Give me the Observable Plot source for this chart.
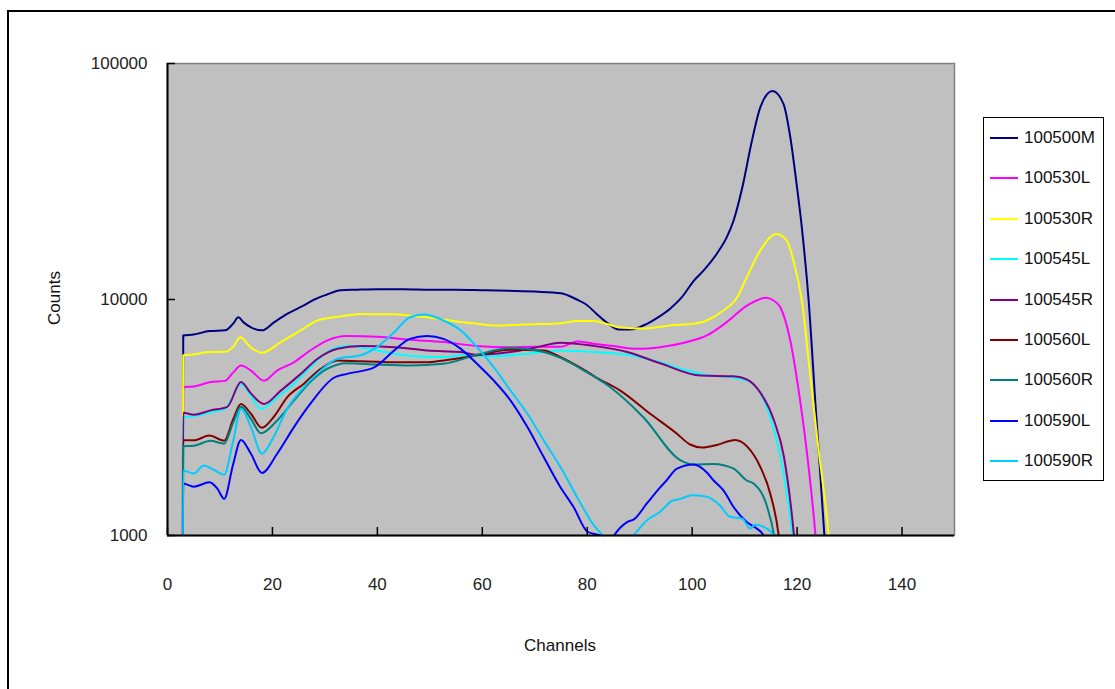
<!DOCTYPE html>
<html>
<head>
<meta charset="utf-8">
<script src="https://cdn.jsdelivr.net/npm/d3@7"></script>
<script src="https://cdn.jsdelivr.net/npm/@observablehq/plot@0.6"></script>
<style>
  html, body { margin:0; padding:0; background:#fff; }
  body { width:1115px; height:689px; position:relative; overflow:hidden; font-family:"Liberation Sans", Arial, sans-serif; }
  #chart { position:absolute; left:0; top:0; }
  #outer { position:absolute; left:7px; top:10px; width:1120px; height:700px; border:2px solid #000; pointer-events:none; box-sizing:border-box; }
  .lbl { position:absolute; font-size:17px; color:#111; white-space:nowrap; }
  #legend { position:absolute; left:983px; top:117px; width:121px; height:364px; border:1px solid #000; box-sizing:border-box; background:#fff; }
  .item { position:absolute; left:6px; height:20px; display:flex; align-items:center; font-size:17px; color:#111; }
  .item svg { margin-right:6px; }
</style>
</head>
<body>
<div id="chart"></div>
<div id="outer"></div>
<div class="lbl" id="ylab" style="left:55px; top:298px; transform:translate(-50%,-50%) rotate(-90deg);">Counts</div>
<div class="lbl" id="xlab" style="left:560px; top:646px; transform:translate(-50%,-50%);">Channels</div>
<div id="legend"></div>
<script>
// ---- data: [channel, counts] ----
const seriesNames = ["100500M","100530L","100530R","100545L","100545R","100560L","100560R","100590L","100590R"];
const seriesColors = ["#000080","#FF00FF","#FFFF00","#00FFFF","#800080","#800000","#008080","#0000FF","#00CCFF"];
const xTicks = [0,20,40,60,80,100,120,140];
const yTicks = [1000,10000,100000];

const s100500M = [[2.8,100],[3,7040],[5,7100],[8,7350],[11,7400],[12.5,7900],[13.5,8400],[14.5,8000],[16,7600],[18,7400],[20.3,8000],[22.8,8690],[26,9440],[28,10000],[30.4,10500],[33,10950],[36,11000],[40,11050],[45,11050],[50,11000],[55,11000],[60,10950],[65,10900],[70,10800],[75,10640],[78,10000],[79.6,9590],[81.8,8690],[84,7900],[86,7460],[88.2,7460],[91.4,7890],[93.5,8400],[95.8,9140],[98,10200],[100.3,12000],[102.2,13280],[104.7,15630],[106.6,18370],[107.9,21620],[109.5,29440],[111.4,47200],[113,65300],[115.3,76400],[117.4,67500],[118.7,48800],[119.9,30900],[120.9,20200],[122.2,9900],[123.5,3600],[125.2,1000],[126,500]];
const s100530L = [[2.8,100],[3,4250],[5,4280],[8.2,4470],[10.9,4520],[12.5,4900],[14,5250],[15.9,5000],[18.4,4530],[20.9,5000],[24.1,5420],[27.2,6080],[30.4,6700],[34.2,7000],[40,6950],[46.2,6750],[52.6,6600],[58.9,6360],[65.3,6280],[70,6300],[74.9,6300],[78.1,6640],[81.2,6500],[85,6350],[89.5,6180],[93.9,6280],[99,6600],[102.8,7040],[106.6,8020],[110.5,9440],[112.5,9950],[114,10160],[115.5,9900],[116.8,9270],[118.7,6700],[120.3,4110],[121.9,2220],[123.5,1000],[124.5,500]];
const s100530R = [[2.8,100],[3,5800],[5,5850],[8,5990],[11,6000],[12.5,6300],[13.9,6920],[15.8,6280],[18,5950],[21.6,6600],[25.4,7400],[28.6,8150],[33,8470],[36.8,8690],[40,8650],[43.2,8650],[46,8550],[49.5,8410],[53,8200],[55.9,8020],[59,7900],[62.2,7760],[66,7800],[70,7850],[74.9,7930],[78,8100],[81.2,8100],[84,7850],[86,7630],[90.8,7540],[95.8,7760],[100.9,7930],[102.8,8150],[106,9000],[108.6,10230],[110.4,12420],[113,16150],[116.1,18970],[118,17800],[119.3,14620],[120.9,9900],[122.5,4770],[124,2400],[126,1000],[127,500]];
const s100545L = [[2.8,100],[3,3170],[5,3200],[8.2,3330],[10.9,3440],[12.5,3900],[14,4400],[15.9,3920],[17.8,3440],[20.9,3850],[24.1,4400],[27.2,5160],[30.4,5990],[34.2,6360],[39.9,6080],[43.2,5890],[49.5,5710],[52.6,5700],[55.9,5800],[62.2,5750],[68.6,5890],[74.9,6080],[81.2,5990],[89.5,5740],[93.9,5420],[99,5000],[103.5,4760],[107.9,4660],[111.1,4470],[113.7,3730],[115.6,2790],[117.2,1950],[119.1,1000],[120,600]];
const s100545R = [[2.8,100],[3,3310],[5,3250],[8.2,3390],[11.4,3510],[14,4470],[15.9,4000],[18.4,3610],[21.6,4110],[25.4,4840],[28.6,5610],[32.4,6180],[36.8,6360],[43.2,6280],[49.5,6080],[55.9,5990],[59,5830],[65.4,5990],[70,6250],[74.9,6560],[81.2,6360],[87.6,5990],[93.9,5370],[101.6,4760],[107.9,4730],[110.5,4580],[113,4030],[115.6,3070],[117.5,2150],[119.4,1000],[120.5,500]];
const s100560L = [[2.8,100],[3,2530],[5,2530],[8,2650],[10.8,2520],[12.5,3100],[14,3610],[15.9,3280],[18,2860],[20.2,3170],[22.8,3850],[26,4400],[29.2,5080],[32.4,5520],[36.8,5470],[43.2,5420],[49.5,5420],[52.7,5520],[59,5800],[65.4,6120],[71.7,6080],[74.9,5700],[78.7,5140],[81.8,4660],[86.3,4110],[92,3280],[97.1,2700],[99.6,2430],[101.9,2360],[104.7,2420],[108.2,2540],[110.5,2380],[113,1950],[114.9,1500],[116.5,1000],[117.5,600]];
const s100560R = [[2.8,100],[3,2390],[5,2400],[8.2,2520],[10.8,2450],[12.5,3000],[14,3510],[15.9,3120],[17.8,2710],[20.9,3070],[24.1,3730],[27.2,4470],[30.4,5080],[34.2,5370],[39.9,5300],[46.2,5250],[52.6,5340],[59,5830],[65.4,6230],[71.7,5990],[74.9,5660],[79.9,4920],[84.4,4250],[90.7,3170],[97.8,2080],[100.3,2000],[104.1,2010],[107.9,1920],[110.4,1710],[111.7,1660],[114.3,1320],[115.6,1000],[116.5,700]];
const s100590L = [[2.8,100],[3,1660],[5,1610],[8,1680],[9.5,1580],[10.8,1430],[12.5,2000],[14,2540],[15.9,2220],[18,1840],[20.9,2220],[24.1,2880],[27.2,3610],[31.7,4660],[34.2,4840],[39.3,5140],[43.2,6080],[46.2,6810],[49.5,7000],[52.6,6810],[55.9,6180],[59,5340],[62.2,4530],[65.4,3730],[68.6,2880],[71.7,2150],[74.9,1600],[77.4,1320],[80,1040],[81.8,1010],[83,990],[84,900],[85,990],[87.6,1140],[88.9,1170],[91.4,1370],[93.9,1600],[95.1,1710],[97.1,1920],[100.3,2000],[102.8,1850],[104.1,1710],[106,1550],[107.9,1320],[110.4,1140],[112.3,1070],[113.6,1000],[114.5,800]];
const s100590R = [[2.8,100],[3,1880],[5,1830],[6.9,1980],[8.8,1900],[10.8,1810],[12.5,2500],[14,3440],[15.9,2880],[18,2220],[20.2,2610],[22.8,3440],[25.4,4110],[29.2,5000],[32.4,5610],[36.8,5800],[39.9,6280],[43.2,7260],[46.2,8410],[48.8,8630],[52.6,8150],[55.9,7400],[59,6280],[62.2,5160],[65.4,4110],[68.6,3280],[71.7,2530],[74.9,1950],[78.1,1450],[81.2,1110],[83,1000],[86,850],[88.8,1000],[91.4,1160],[93.9,1260],[96.1,1400],[97.8,1430],[99.9,1480],[102.8,1460],[105.3,1340],[107.2,1200],[109.5,1180],[111.1,1070],[112,1110],[114.2,1070],[115.5,1000],[116.5,800]];

const seriesData = [s100500M, s100530L, s100530R, s100545L, s100545R, s100560L, s100560R, s100590L, s100590R];
const rows = seriesData.flatMap((d, i) => d.map(([ch, c]) => ({series: seriesNames[i], ch, c})));

const W = 1115, H = 689, mL = 167, mT = 63, mR = 161, mB = 154;
const innerW = W - mL - mR, innerH = H - mT - mB;

const chart = Plot.plot({
  width: W, height: H,
  marginLeft: mL, marginTop: mT, marginRight: mR, marginBottom: mB,
  style: {fontFamily: "Liberation Sans, Arial, sans-serif", fontSize: "17px", background: "transparent", color: "#222"},
  x: {domain: [0, 150], ticks: xTicks, label: null},
  y: {type: "log", domain: [1000, 100000], ticks: yTicks, label: null},
  color: {domain: seriesNames, range: seriesColors},
  marks: [
    Plot.frame({fill: "#C0C0C0", stroke: "#808080", strokeWidth: 1.5}),
    Plot.line(rows, {x: "ch", y: "c", z: "series", stroke: "series", strokeWidth: 2, curve: "monotone-x", clip: true}),
    Plot.ruleX([0], {stroke: "#000", strokeWidth: 2}),
    Plot.ruleY([1000], {stroke: "#000", strokeWidth: 2}),
    Plot.tickX(xTicks, {x: d => d, stroke: "#000", strokeWidth: 1.5, insetTop: innerH - 8}),
    Plot.tickY(yTicks, {y: d => d, stroke: "#000", strokeWidth: 1.5, insetRight: innerW - 8}),
    Plot.axisX({ticks: xTicks, tickSize: 0, tickPadding: 42, label: null, fontSize: 17}),
    Plot.axisY({ticks: yTicks, tickSize: 0, tickPadding: 20, tickFormat: d => String(d), label: null, fontSize: 17})
  ]
});
document.getElementById("chart").appendChild(chart);

// legend
const legend = document.getElementById("legend");
seriesNames.forEach((name, i) => {
  const it = document.createElement("div");
  it.className = "item";
  it.style.top = (10 + i * 40.4) + "px";
  it.innerHTML = `<svg width="28" height="4"><line x1="0" x2="28" y1="2" y2="2" stroke="${seriesColors[i]}" stroke-width="2"/></svg><span>${name}</span>`;
  legend.appendChild(it);
});
</script>
</body>
</html>
